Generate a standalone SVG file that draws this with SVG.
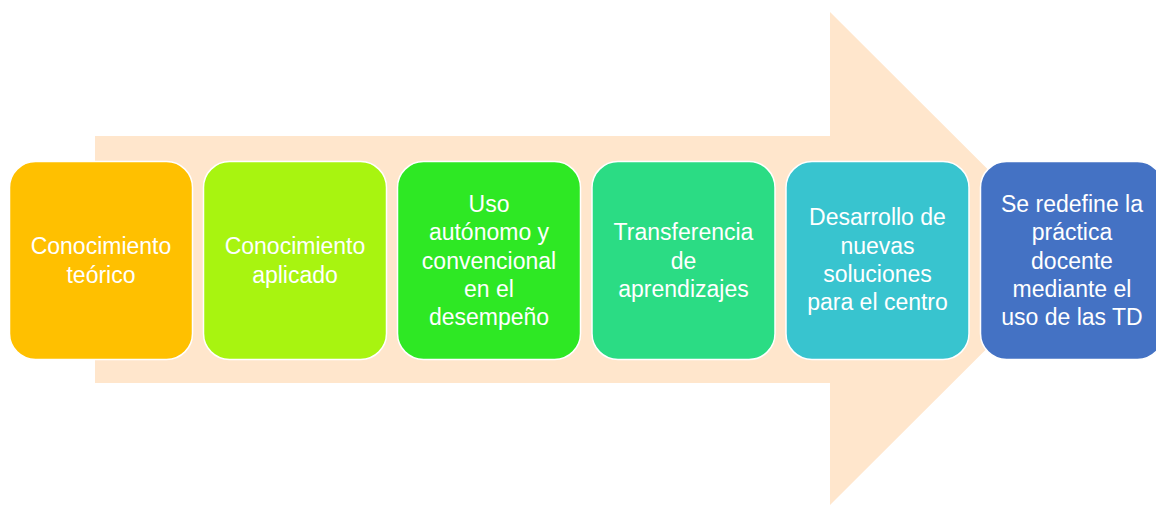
<svg xmlns="http://www.w3.org/2000/svg" width="1156" height="506" viewBox="0 0 1156 506">
<style>
.box{stroke:#fff;stroke-width:1.5}
.t{font-family:"Liberation Sans",Arial,sans-serif;font-size:23px;fill:#fff;text-anchor:middle}
</style>
<rect width="1156" height="506" fill="#fff"/>
<g id="arrow">
<polygon points="95,136 830,136 830,12 1077,258.5 830,505 830,383 95,383" fill="#FFE6CC"/>
</g>
<g id="connectors"></g>
<g id="n1">
<rect class="box" x="9.5" y="161.5" width="183" height="198" rx="26" fill="#FFC000"/>
<text class="t" x="101" y="254">Conocimiento</text>
<text class="t" x="101" y="283">teórico</text>
</g>
<g id="n2">
<rect class="box" x="203.5" y="161.5" width="183" height="198" rx="26" fill="#A8F410"/>
<text class="t" x="295" y="254">Conocimiento</text>
<text class="t" x="295" y="283">aplicado</text>
</g>
<g id="n3">
<rect class="box" x="397.5" y="161.5" width="183" height="198" rx="26" fill="#2EE824"/>
<text class="t" x="489" y="212">Uso</text>
<text class="t" x="489" y="240">autónomo y</text>
<text class="t" x="489" y="268.5">convencional</text>
<text class="t" x="489" y="297">en el</text>
<text class="t" x="489" y="325">desempeño</text>
</g>
<g id="n4">
<rect class="box" x="592" y="161.5" width="183" height="198" rx="26" fill="#2BDC84"/>
<text class="t" x="683.5" y="240">Transferencia</text>
<text class="t" x="683.5" y="268.5">de</text>
<text class="t" x="683.5" y="297">aprendizajes</text>
</g>
<g id="n5">
<rect class="box" x="786" y="161.5" width="183" height="198" rx="26" fill="#38C4CF"/>
<text class="t" x="877.5" y="225">Desarrollo de</text>
<text class="t" x="877.5" y="254">nuevas</text>
<text class="t" x="877.5" y="282">soluciones</text>
<text class="t" x="877.5" y="310">para el centro</text>
</g>
<g id="n6">
<rect class="box" x="980.5" y="161.5" width="183" height="198" rx="26" fill="#4472C4"/>
<text class="t" x="1072" y="212">Se redefine la</text>
<text class="t" x="1072" y="240">práctica</text>
<text class="t" x="1072" y="268.5">docente</text>
<text class="t" x="1072" y="297">mediante el</text>
<text class="t" x="1072" y="325">uso de las TD</text>
</g>
</svg>
